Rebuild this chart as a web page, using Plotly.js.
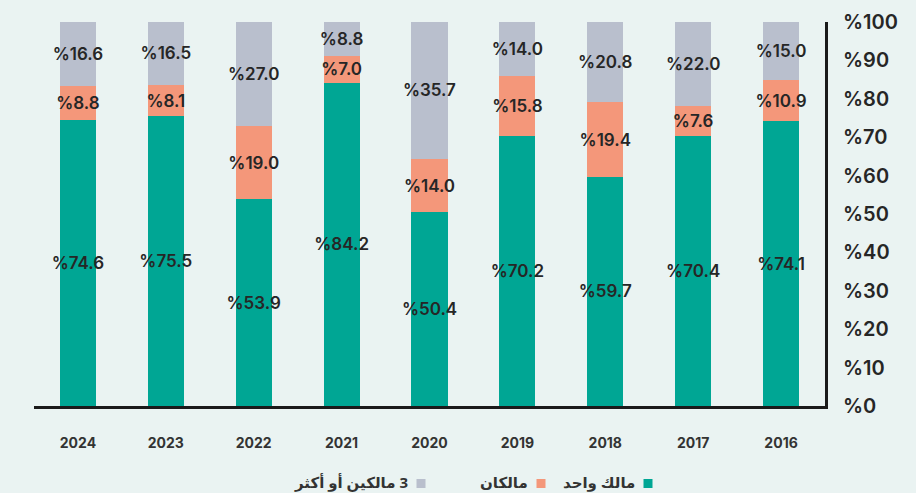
<!DOCTYPE html>
<html>
<head>
<meta charset="utf-8">
<script src="https://cdn.plot.ly/plotly-3.0.1.min.js"></script>
<style>
html,body{margin:0;padding:0;background:#eaf3f2;}
#chart{width:916px;height:493px;}
</style>
</head>
<body>
<div id="chart"></div>
<script>
const years = ['2024','2023','2022','2021','2020','2019','2018','2017','2016'];
const oneOwner = [74.6, 75.5, 53.9, 84.2, 50.4, 70.2, 59.7, 70.4, 74.1];
const twoOwners = [8.8, 8.1, 19.0, 7.0, 14.0, 15.8, 19.4, 7.6, 10.9];
const threePlus = [16.6, 16.5, 27.0, 8.8, 35.7, 14.0, 20.8, 22.0, 15.0];
const seriesNames = ['مالك واحد', 'مالكان', '\u200F3 مالكين أو أكثر'];
const seriesColors = ['#00a694', '#f4977a', '#b9bfcd'];
const yTickVals = [0,10,20,30,40,50,60,70,80,90,100];
const yTickText = yTickVals.map(v => '%' + v);

const FONT = 'Inter, "Noto Sans", "DejaVu Sans", sans-serif';
const series = [oneOwner, twoOwners, threePlus];

const traces = series.map((vals, i) => ({
  type: 'bar',
  x: years,
  y: vals,
  name: seriesNames[i],
  marker: {color: seriesColors[i], line: {width: 0}},
  text: vals.map(v => '%' + v.toFixed(1)),
  textposition: 'inside',
  insidetextanchor: 'middle',
  textangle: 0,
  constraintext: 'none',
  textfont: {family: FONT, size: 17, color: '#262626', weight: 600},
  hoverinfo: 'x+y+name',
  showlegend: false
}));

const W = 916, H = 493, ml = 34, mr = 91, mt = 22, mb = 87;
const pw = W - ml - mr, ph = H - mt - mb;
const swatchX = [648, 541, 421];
const legendShapes = swatchX.map((cx, i) => ({
  type: 'rect', xref: 'paper', yref: 'paper',
  x0: (cx - 4.5 - ml) / pw, x1: (cx + 4.5 - ml) / pw,
  y0: (H - 488 - mb) / ph, y1: (H - 479 - mb) / ph,
  fillcolor: seriesColors[i], line: {width: 0}
}));
const legendAnnots = swatchX.map((cx, i) => ({
  xref: 'paper', yref: 'paper',
  x: (cx - 11 - ml) / pw, y: (H - 482 - mb) / ph,
  xanchor: 'right', yanchor: 'middle',
  text: seriesNames[i], showarrow: false,
  font: {family: '"Noto Sans", "DejaVu Sans", sans-serif', size: 15, color: '#333333', weight: 700}
}));

const layout = {
  width: W, height: H,
  margin: {l: ml, r: mr, t: mt, b: mb, pad: 0},
  paper_bgcolor: '#eaf3f2',
  plot_bgcolor: '#eaf3f2',
  barmode: 'stack',
  bargap: 0.59,
  showlegend: false,
  xaxis: {
    type: 'category',
    categoryorder: 'array',
    categoryarray: years,
    showline: true, linecolor: '#1a1a1a', linewidth: 3,
    showgrid: false, zeroline: false,
    ticks: 'outside', ticklen: 22, tickcolor: 'rgba(0,0,0,0)',
    tickfont: {family: FONT, size: 14, color: '#333333', weight: 700},
    fixedrange: true
  },
  yaxis: {
    side: 'right',
    range: [0, 100],
    tickvals: yTickVals,
    ticktext: yTickText,
    showline: true, linecolor: '#1a1a1a', linewidth: 3,
    showgrid: false, zeroline: false,
    ticks: 'outside', ticklen: 11, tickcolor: 'rgba(0,0,0,0)',
    tickfont: {family: FONT, size: 20, color: '#262626', weight: 600},
    fixedrange: true
  },
  shapes: legendShapes,
  annotations: legendAnnots
};

Plotly.newPlot('chart', traces, layout, {displayModeBar: false, staticPlot: true});
</script>
</body>
</html>
